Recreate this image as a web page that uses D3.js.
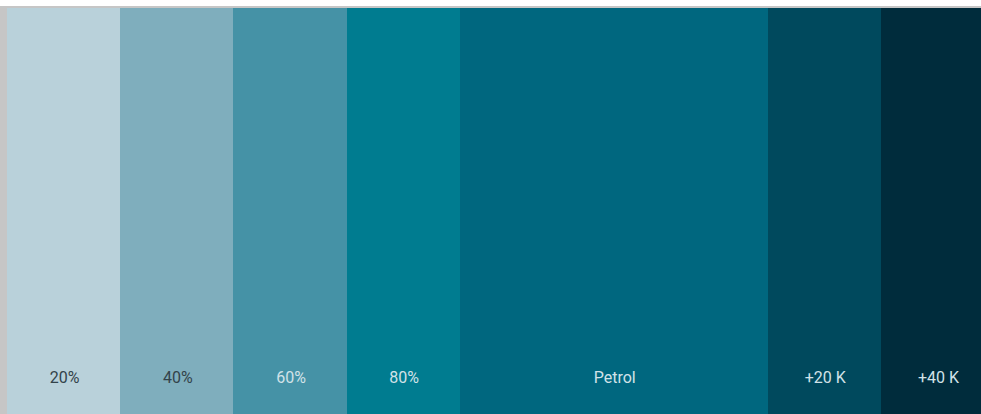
<!DOCTYPE html>
<html>
<head>
<meta charset="utf-8">
<script src="https://cdn.jsdelivr.net/npm/d3@7"></script>
<style>
  body { margin: 0; background: #fff; overflow: hidden; }
</style>
</head>
<body>
<div id="swatch"></div>
<script>
// swatch names, relative widths and fill colours, left to right
var names = ["20%", "40%", "60%", "80%", "Petrol", "+20 K", "+40 K"];
var widths = [1, 1, 1, 1, 2.72, 1, 1];
var fills = ["#b9d1da", "#7faebd", "#4592a6", "#007c90", "#00677f", "#00495d", "#002c3c"];
var labelFills = ["#33434a", "#33434a", "#d2e2e8", "#d2e2e8", "#d2e2e8", "#d2e2e8", "#d2e2e8"];

var W = 981, H = 414;
var frame = { top: 6, left: 7, line: 2 };
var unit = 113.2;

var svg = d3.select("#swatch").append("svg")
  .attr("width", W)
  .attr("height", H);

// grey frame on the left and top
svg.append("rect")
  .attr("x", 0).attr("y", frame.top)
  .attr("width", W).attr("height", H - frame.top)
  .attr("fill", "#c6c6c6");

var swatches = names.map(function(n, i) {
  return { name: n, w: widths[i], fill: fills[i], label: labelFills[i] };
});
var start = 0;
swatches.forEach(function(s) { s.x0 = start; start += s.w; s.x1 = start; });

var x = d3.scaleLinear()
  .domain([0, d3.sum(widths)])
  .range([frame.left, frame.left + d3.sum(widths) * unit]);

// careful: "top" is window.top, so use another name
var bandTop = frame.top + frame.line;

var g = svg.selectAll("g.sw")
  .data(swatches)
  .enter()
  .append("g")
  .attr("class", "sw");

// rounded edges so neighbouring swatches don't leave a seam
g.append("rect")
  .attr("x", d => Math.round(x(d.x0)))
  .attr("y", bandTop)
  .attr("width", d => Math.round(x(d.x1)) - Math.round(x(d.x0)))
  .attr("height", H - bandTop)
  .attr("fill", d => d.fill)
  .attr("shape-rendering", "crispEdges");

g.append("text")
  .attr("x", d => (x(d.x0) + x(d.x1)) / 2 + 1)
  .attr("y", 383)
  .attr("text-anchor", "middle")
  .attr("font-family", "Roboto, 'Noto Sans', sans-serif")
  .attr("font-size", 16)
  .attr("fill", d => d.label)
  .text(d => d.name);
</script>
</body>
</html>
